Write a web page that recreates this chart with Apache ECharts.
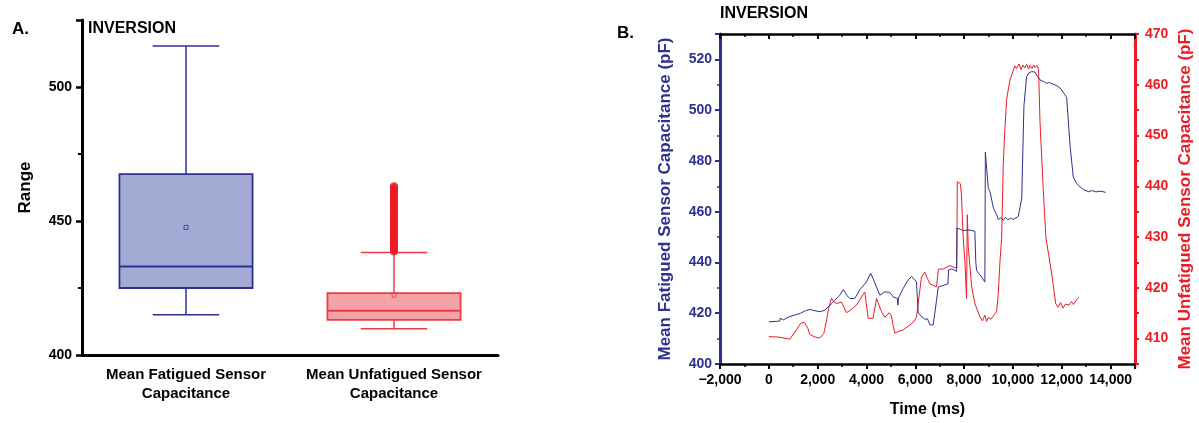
<!DOCTYPE html>
<html>
<head>
<meta charset="utf-8">
<script src="https://cdn.jsdelivr.net/npm/echarts@6/dist/echarts.min.js"></script>
<style>
html,body{margin:0;padding:0;background:#fff;}
#chart{width:1199px;height:423px;}
</style>
</head>
<body>
<div id="chart"></div>
<script>
// ---- Panel A: box plot data ----
const boxCategories = ['Mean Fatigued Sensor\nCapacitance', 'Mean Unfatigued Sensor\nCapacitance'];
// [min, Q1, median, Q3, max]
const fatiguedBox = [415, 425, 433, 467.5, 515.3];
const unfatiguedBox = [409.8, 413.1, 416.5, 423.1, 438.2];
const boxMeans = [447.6, 422.3];
const unfatiguedOutliers = [438.6, 439.1, 439.7, 440.2, 440.8, 441.4, 441.9, 442.5, 443.0, 443.6, 444.1, 444.7, 445.3, 445.8, 446.4, 446.9, 447.5, 448.1, 448.6, 449.2, 449.7, 450.3, 450.8, 451.4, 452.0, 452.5, 453.1, 453.6, 454.2, 454.8, 455.3, 455.9, 456.4, 457.0, 457.5, 458.1, 458.7, 459.2, 459.8, 460.3, 460.9, 461.4, 462.0, 462.5, 463.0];

// ---- Panel B: time series ----
const fatiguedTime = [0, 300, 440, 460, 600, 800, 1070, 1300, 1500, 1680, 1800, 2090, 2300, 2430, 2600, 2700, 2900, 3050, 3200, 3320, 3520, 3730, 4000, 4170, 4300, 4410, 4550, 4750, 4960, 5100, 5270, 5290, 5310, 5500, 5700, 5850, 6050, 6120, 6190, 6390, 6500, 6600, 6730, 6800, 6870, 6940, 7010, 7340, 7360, 7500, 7690, 7710, 7960, 8200, 8440, 8480, 8510, 8700, 8850, 8870, 8990, 9060, 9200, 9330, 9400, 9500, 9600, 9700, 9800, 9900, 10000, 10100, 10220, 10360, 10450, 10560, 10650, 10770, 10900, 11000, 11110, 11250, 11380, 11500, 11650, 11800, 11930, 12100, 12200, 12340, 12470, 12600, 12750, 12900, 13090, 13250, 13400, 13600, 13800];
const fatiguedValue = [416.6, 416.8, 416.9, 418.0, 417.4, 418.5, 419.3, 420.0, 421.0, 421.5, 421.2, 420.6, 421.2, 422.5, 424.0, 425.1, 427.0, 429.3, 427.0, 425.8, 425.8, 429.3, 432.3, 435.8, 433.0, 430.3, 427.1, 428.4, 428.2, 426.4, 425.8, 423.2, 426.0, 429.7, 433.0, 434.5, 432.3, 420.0, 419.5, 417.6, 417.8, 415.4, 415.4, 420.0, 425.1, 430.3, 431.0, 431.6, 437.0, 437.5, 436.5, 453.6, 452.6, 452.8, 452.3, 440.0, 436.8, 434.5, 432.3, 483.4, 469.2, 467.9, 461.4, 458.8, 456.9, 457.6, 456.6, 457.8, 456.8, 457.5, 457.0, 457.4, 458.2, 465.3, 501.6, 513.2, 514.6, 515.2, 515.0, 513.4, 511.9, 511.3, 510.6, 510.9, 510.2, 509.6, 508.7, 506.5, 505.0, 486.0, 473.7, 471.2, 469.8, 468.6, 467.9, 468.3, 467.8, 468.1, 467.6];

const unfatiguedTime = [0, 400, 860, 1100, 1300, 1450, 1600, 1680, 1900, 2090, 2250, 2340, 2450, 2570, 2650, 2770, 2980, 3180, 3400, 3590, 3800, 3930, 3990, 4070, 4270, 4410, 4520, 4620, 4750, 4930, 5020, 5100, 5160, 5350, 5500, 5780, 5950, 6050, 6160, 6250, 6390, 6500, 6600, 6870, 6930, 6945, 7140, 7420, 7600, 7700, 7720, 7850, 7890, 7960, 8030, 8100, 8130, 8170, 8310, 8440, 8650, 8750, 8850, 8920, 9000, 9100, 9200, 9330, 9400, 9470, 9540, 9600, 9670, 9740, 9880, 10000, 10080, 10150, 10250, 10330, 10400, 10480, 10560, 10640, 10700, 10780, 10850, 10900, 10980, 11050, 11110, 11240, 11350, 11610, 11750, 11850, 11950, 12050, 12150, 12300, 12400, 12480, 12570, 12640, 12700];
const unfatiguedValue = [410.4, 410.3, 409.9, 411.5, 413.0, 413.2, 412.0, 410.8, 410.3, 410.1, 411.0, 413.0, 416.0, 418.0, 417.3, 416.9, 417.2, 415.1, 415.8, 416.6, 418.2, 419.2, 417.0, 414.0, 414.0, 417.9, 416.5, 415.3, 414.2, 415.1, 414.5, 412.4, 411.1, 411.5, 411.7, 412.7, 413.4, 414.3, 418.5, 422.1, 423.1, 421.8, 420.8, 420.2, 420.3, 423.7, 423.7, 424.4, 424.0, 424.0, 440.9, 440.5, 438.3, 430.0, 425.3, 417.9, 434.4, 428.0, 420.2, 416.9, 414.3, 413.5, 414.6, 413.4, 414.2, 413.8, 414.5, 415.3, 418.9, 425.3, 430.0, 444.0, 451.2, 457.1, 461.0, 462.6, 463.7, 463.2, 464.1, 463.0, 463.9, 463.3, 464.0, 463.1, 463.8, 463.2, 463.9, 463.4, 463.8, 463.0, 452.5, 439.6, 429.9, 422.1, 416.9, 416.2, 417.1, 416.0, 416.8, 416.6, 417.3, 416.7, 417.4, 417.9, 418.2];

const chart = echarts.init(document.getElementById('chart'), null, {renderer: 'canvas'});
const FONT = '"Liberation Sans", Arial, sans-serif';
const NAVY = '#2e3192';
const RED = '#ed1c24';
const boxStyles = [
  {fill: '#a3abd4', stroke: NAVY},
  {fill: '#f4a4a7', stroke: '#ef3b44'}
];

function zip(a, b) { return a.map((v, i) => [v, b[i]]); }
function fmtThousands(v) {
  const s = Math.abs(v).toString().replace(/\B(?=(\d{3})+(?!\d))/g, ',');
  return v < 0 ? '\u2212' + s : s;
}

const option = {
  animation: false,
  backgroundColor: '#fff',
  textStyle: {fontFamily: FONT},
  grid: [
    {left: 82, right: 701, top: 20, bottom: 68},
    {left: 720, right: 64, top: 34, bottom: 55}
  ],
  xAxis: [
    {
      type: 'category', gridIndex: 0, data: boxCategories,
      axisLine: {lineStyle: {color: '#000', width: 3}},
      axisTick: {alignWithLabel: true, length: 6, lineStyle: {width: 2.5, color: '#000'}},
      axisLabel: {interval: 0, color: '#000', fontWeight: 'bold', fontSize: 15, lineHeight: 19, margin: 10, fontFamily: FONT}
    },
    {
      type: 'value', gridIndex: 1, min: -2000, max: 15000, interval: 2000, position: 'bottom',
      axisLine: {onZero: false, lineStyle: {color: '#000', width: 2.5}},
      axisTick: {length: 5, lineStyle: {width: 2, color: '#000'}},
      minorTick: {show: true, splitNumber: 2, length: 3, lineStyle: {width: 1.5, color: '#000'}},
      axisLabel: {color: '#000', fontWeight: 'bold', fontSize: 14, margin: 9, showMaxLabel: false, fontFamily: FONT, formatter: fmtThousands},
      splitLine: {show: false},
      name: 'Time (ms)', nameLocation: 'middle', nameGap: 38,
      nameTextStyle: {color: '#000', fontWeight: 'bold', fontSize: 16, fontFamily: FONT}
    },
    {
      type: 'value', gridIndex: 1, min: -2000, max: 15000, interval: 2000, position: 'top',
      axisLine: {onZero: false, lineStyle: {color: '#000', width: 2.5}},
      axisTick: {inside: true, length: 5, lineStyle: {width: 2, color: '#000'}},
      minorTick: {show: true, splitNumber: 2, length: 3, lineStyle: {width: 1.5, color: '#000'}},
      axisLabel: {show: false},
      splitLine: {show: false}
    }
  ],
  yAxis: [
    {
      type: 'value', gridIndex: 0, min: 400, max: 525, interval: 50,
      axisLine: {show: true, lineStyle: {color: '#000', width: 3}},
      axisTick: {show: true, length: 6, lineStyle: {width: 2.5, color: '#000'}},
      minorTick: {show: true, splitNumber: 2, length: 4, lineStyle: {width: 2, color: '#000'}},
      axisLabel: {color: '#000', fontWeight: 'bold', fontSize: 14, margin: 10, showMaxLabel: false, fontFamily: FONT},
      splitLine: {show: false},
      name: 'Range', nameLocation: 'middle', nameGap: 48,
      nameTextStyle: {color: '#000', fontWeight: 'bold', fontSize: 17, fontFamily: FONT}
    },
    {
      type: 'value', gridIndex: 1, min: 400, max: 530, interval: 20, position: 'left',
      axisLine: {show: true, onZero: false, lineStyle: {color: NAVY, width: 3}},
      axisTick: {show: true, length: 5, lineStyle: {width: 2, color: NAVY}},
      minorTick: {show: true, splitNumber: 2, length: 3, lineStyle: {width: 1.5, color: NAVY}},
      axisLabel: {color: NAVY, fontWeight: 'bold', fontSize: 14, margin: 8, showMaxLabel: false, fontFamily: FONT},
      splitLine: {show: false},
      name: 'Mean Fatigued Sensor Capacitance (pF)', nameLocation: 'middle', nameGap: 46,
      nameTextStyle: {color: NAVY, fontWeight: 'bold', fontSize: 17, fontFamily: FONT}
    },
    {
      type: 'value', gridIndex: 1, min: 405, max: 470, interval: 5, position: 'right',
      axisLine: {show: true, onZero: false, lineStyle: {color: RED, width: 3}},
      axisTick: {show: true, length: 4, lineStyle: {width: 2, color: RED}},
      axisLabel: {color: RED, fontWeight: 'bold', fontSize: 14, margin: 10, fontFamily: FONT,
        formatter: v => (v % 10 === 0 ? String(v) : '')},
      splitLine: {show: false},
      name: 'Mean Unfatigued Sensor Capacitance (pF)', nameLocation: 'middle', nameGap: 42,
      nameTextStyle: {color: RED, fontWeight: 'bold', fontSize: 17, fontFamily: FONT}
    }
  ],
  graphic: [
    {type: 'text', left: 12, top: 21, style: {text: 'A.', font: 'bold 17px ' + FONT, fill: '#000'}},
    {type: 'text', left: 88, top: 21, style: {text: 'INVERSION', font: 'bold 16px ' + FONT, fill: '#000'}},
    {type: 'text', left: 617, top: 25, style: {text: 'B.', font: 'bold 17px ' + FONT, fill: '#000'}},
    {type: 'text', left: 720, top: 6, style: {text: 'INVERSION', font: 'bold 16px ' + FONT, fill: '#000'}}
  ],
  series: [
    {
      type: 'custom', xAxisIndex: 0, yAxisIndex: 0,
      data: [[0].concat(fatiguedBox), [1].concat(unfatiguedBox)],
      renderItem: function (params, api) {
        const c = api.value(0);
        const p = [1, 2, 3, 4, 5].map(i => api.coord([c, api.value(i)]));
        const cx = p[0][0];
        const half = api.size([1, 0])[0] * 0.32;
        const cap = half / 2;
        const st = boxStyles[params.dataIndex];
        const ls = {stroke: st.stroke, lineWidth: 1.5, fill: null};
        return {
          type: 'group',
          children: [
            {type: 'line', shape: {x1: cx, y1: p[0][1], x2: cx, y2: p[1][1]}, style: ls},
            {type: 'line', shape: {x1: cx, y1: p[3][1], x2: cx, y2: p[4][1]}, style: ls},
            {type: 'line', shape: {x1: cx - cap, y1: p[0][1], x2: cx + cap, y2: p[0][1]}, style: ls},
            {type: 'line', shape: {x1: cx - cap, y1: p[4][1], x2: cx + cap, y2: p[4][1]}, style: ls},
            {type: 'rect', shape: {x: cx - half, y: p[3][1], width: half * 2, height: p[1][1] - p[3][1]},
              style: {fill: st.fill, stroke: st.stroke, lineWidth: 1.8}},
            {type: 'line', shape: {x1: cx - half, y1: p[2][1], x2: cx + half, y2: p[2][1]},
              style: {stroke: st.stroke, lineWidth: 2}}
          ]
        };
      },
      z: 2
    },
    {
      type: 'scatter', xAxisIndex: 0, yAxisIndex: 0,
      data: unfatiguedOutliers.map(v => [1, v]),
      symbol: 'circle', symbolSize: 8,
      itemStyle: {color: RED}, z: 3
    },
    {
      type: 'scatter', xAxisIndex: 0, yAxisIndex: 0,
      data: boxMeans.map((v, i) => ({value: [i, v], itemStyle: {borderColor: boxStyles[i].stroke}})),
      symbol: 'rect', symbolSize: 4,
      itemStyle: {color: 'rgba(255,255,255,0)', borderWidth: 1}, z: 4
    },
    {
      type: 'line', xAxisIndex: 1, yAxisIndex: 1,
      data: zip(fatiguedTime, fatiguedValue),
      showSymbol: false, symbol: 'none',
      lineStyle: {color: NAVY, width: 1}, z: 3
    },
    {
      type: 'line', xAxisIndex: 1, yAxisIndex: 2,
      data: zip(unfatiguedTime, unfatiguedValue),
      showSymbol: false, symbol: 'none',
      lineStyle: {color: RED, width: 1}, z: 2
    }
  ]
};
chart.setOption(option);
</script>
</body>
</html>
